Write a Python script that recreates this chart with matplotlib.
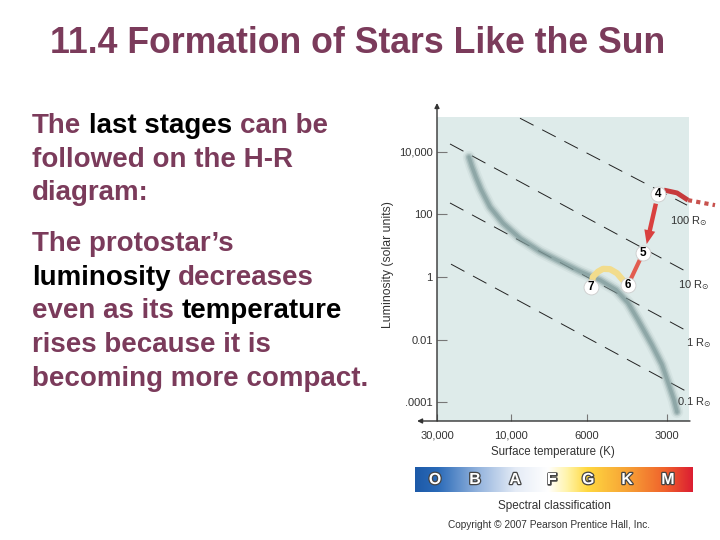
import numpy as np
import matplotlib.pyplot as plt
import matplotlib.patheffects as pe
from matplotlib.colors import LinearSegmentedColormap

plt.rcParams['font.family'] = ['Liberation Sans', 'DejaVu Sans']
plt.rcParams['lines.scale_dashes'] = False

W, H = 720, 540
MAROON = '#7b3b5b'
GREY = '#333333'

# ---------------- data ----------------
title = "11.4 Formation of Stars Like the Sun"

lum_ticks = [1e4, 1e2, 1, 1e-2, 1e-4]
lum_labels = ["10,000", "100", "1", "0.01", ".0001"]
temp_labels = ["30,000", "10,000", "6000", "3000"]
temp_pos = [0, 74, 150, 230]          # the temperature axis is not evenly logarithmic

# main sequence band (axis position, luminosity)
ms_x = [32, 35, 39, 44, 53, 66, 83, 103, 123, 143, 163, 179, 191, 201, 215, 225, 232, 237, 240]
ms_lum = [6600, 3300, 1500, 620, 170, 52, 17, 6.5, 3.1, 1.5, 0.8, 0.39, 0.15, 0.043,
          0.0068, 0.0016, 0.00036, 0.00012, 0.00005]

# lines of constant radius
radius_labels = ["100 R$_{\\odot}$", "10 R$_{\\odot}$", "1 R$_{\\odot}$", "0.1 R$_{\\odot}$"]
radius_x0 = [83, 13, 13, 14]
radius_l0 = [1.15e5, 1.74e4, 229, 2.57]
radius_x1 = [250, 250, 250, 249]
radius_l1 = [195, 1.45, 0.019, 0.00023]

# evolutionary stages of the protostar
stage_names = ["4", "5", "6", "7"]
stage_x = [221, 206, 191, 154]
stage_lum = [437, 5.75, 0.56, 0.49]

exit_x = [227, 240, 251]              # track leaving stage 4 to the right
exit_lum = [589, 479, 282]
dot_x = [251, 278]
dot_lum = [282, 195]
arrow_tip = (209.7, 11.2)

yel_x = [191, 186, 180, 173, 166, 161, 156, 154]
yel_lum = [0.56, 0.79, 1.32, 1.78, 1.82, 1.48, 1.02, 0.49]

spec_classes = ["O", "B", "A", "F", "G", "K", "M"]

body_lines = [
    [("The", MAROON), ("last stages", "black"), ("can be", MAROON)],
    [("followed on the H-R", MAROON)],
    [("diagram:", MAROON)],
    [("The protostar\u2019s", MAROON)],
    [("luminosity", "black"), ("decreases", MAROON)],
    [("even as its", MAROON), ("temperature", "black")],
    [("rises because it is", MAROON)],
    [("becoming more compact.", MAROON)],
]
body_base = [133, 167, 200, 251, 285, 318, 352, 386]

# ---------------- figure ----------------
fig = plt.figure(figsize=(W / 100, H / 100), dpi=100)
fig.patch.set_facecolor('white')

fig.text(357.5 / W, 1 - 53 / H, title, ha='center', va='baseline',
         fontsize=25.7, fontweight='bold', color=MAROON)

renderer = fig.canvas.get_renderer()
for pieces, yb in zip(body_lines, body_base):
    x = 32
    for txt, col in pieces:
        t = fig.text(x / W, 1 - yb / H, txt, ha='left', va='baseline',
                     fontsize=20, fontweight='bold', color=col)
        x = t.get_window_extent(renderer).x1 + 7.7

# ---------------- H-R diagram ----------------
ax = fig.add_axes([437 / W, 1 - 421 / H, 252 / W, 304 / H])
ax.set_facecolor('#deebea')
ax.set_yscale('log')
ax.set_xlim(0, 252)
ax.set_ylim(10 ** -4.59, 10 ** 5.10)
for s in ax.spines.values():
    s.set_visible(False)

ax.set_yticks(lum_ticks)
ax.set_yticklabels(lum_labels)
ax.yaxis.set_minor_locator(plt.NullLocator())
ax.set_xticks(temp_pos)
ax.set_xticklabels(temp_labels)
ax.tick_params(axis='y', direction='in', length=7, width=0.8, color='#777777',
               labelsize=8, labelcolor=GREY, pad=3)
ax.tick_params(axis='x', direction='in', length=5, width=0.8, color='#777777',
               labelsize=8, labelcolor=GREY, pad=7)

# axis arrows
ax.annotate('', xy=(0, 1.046), xytext=(0, 0), xycoords='axes fraction',
            arrowprops=dict(arrowstyle='-|>', color=GREY, lw=1, mutation_scale=7,
                            shrinkA=0, shrinkB=0), annotation_clip=False)
ax.annotate('', xy=(-0.079, 0), xytext=(1.004, 0), xycoords='axes fraction',
            arrowprops=dict(arrowstyle='-|>', color=GREY, lw=1, mutation_scale=7,
                            shrinkA=0, shrinkB=0), annotation_clip=False)

# constant-radius lines
for x0, l0, x1, l1 in zip(radius_x0, radius_l0, radius_x1, radius_l1):
    ax.plot([x0, x1], [l0, l1], color='#222222', lw=0.7, dashes=(11, 7),
            solid_capstyle='butt', zorder=2)
lab_px = [(670, 221), (678, 285), (686, 343), (677, 402)]
for lab, (px, py) in zip(radius_labels, lab_px):
    fig.text(px / W, 1 - py / H, lab, ha='left', va='center', fontsize=8, color=GREY)

# main sequence (soft band)
for lw, a in [(9, 0.10), (6.5, 0.22), (4.5, 0.4), (2.5, 0.6)]:
    ax.plot(ms_x, ms_lum, color='#7f9a9a', lw=lw, alpha=a,
            solid_capstyle='round', solid_joinstyle='round', zorder=3)

# protostar track
ax.plot(exit_x, exit_lum, color='#c63a3c', lw=3.5, solid_capstyle='butt',
        zorder=4, clip_on=False)
ax.plot(dot_x, dot_lum, color='#c8524e', lw=3, dashes=(3, 3), zorder=4, clip_on=False)
ax.annotate('', xy=arrow_tip, xytext=(stage_x[0], stage_lum[0]),
            arrowprops=dict(arrowstyle='simple,head_length=1.0,head_width=0.8,tail_width=0.32',
                            color='#d9403f', lw=0, shrinkA=7, shrinkB=0,
                            mutation_scale=10), zorder=4)
ax.plot(stage_x[1:3], stage_lum[1:3], color='#e25d50', lw=3, zorder=4)
ax.plot(yel_x, yel_lum, color='#f2dc8c', lw=4.5, solid_capstyle='round',
        solid_joinstyle='round', zorder=4)

ax.scatter(stage_x, stage_lum, s=115, color='white', edgecolor='#cccccc',
           linewidth=0.6, zorder=6)
for n, x, l in zip(stage_names, stage_x, stage_lum):
    ax.text(x, l, n, ha='center', va='center', fontsize=8.5, fontweight='bold',
            color='black', zorder=7)

fig.text(388 / W, 1 - 265 / H, "Luminosity (solar units)", rotation=90,
         ha='center', va='center', fontsize=8.8, color=GREY)
fig.text(553 / W, 1 - 452 / H, "Surface temperature (K)", ha='center', va='center',
         fontsize=8.3, color=GREY)

# ---------------- spectral bar ----------------
bar = fig.add_axes([415 / W, 1 - 492 / H, 278 / W, 25 / H])
cmap = LinearSegmentedColormap.from_list('spec', [
    (0.0, '#1d5aa8'), (0.08, '#2a6ab8'), (0.22, '#90b1dc'), (0.36, '#e4ebf6'),
    (0.48, '#ffffff'), (0.55, '#fff3a6'), (0.62, '#ffd840'), (0.76, '#f7a436'),
    (0.90, '#f0622c'), (1.0, '#dc1e32')])
bar.imshow(np.linspace(0, 1, 256)[None, :], aspect='auto', cmap=cmap,
           extent=(0, 1, 0, 1))
bar.set_xlim(0, 1)
bar.set_ylim(0, 1)
bar.axis('off')
spec_pos = [0.072, 0.216, 0.36, 0.492, 0.623, 0.763, 0.91]
for c, xp in zip(spec_classes, spec_pos):
    bar.text(xp, 0.5, c, ha='center', va='center', fontsize=11.5, fontweight='bold',
             color='white',
             path_effects=[pe.withStroke(linewidth=1.8, foreground='#444444')])

fig.text(554 / W, 1 - 506.5 / H, "Spectral classification", ha='center', va='center',
         fontsize=8.5, color=GREY)
fig.text(549 / W, 1 - 525 / H, "Copyright \u00a9 2007 Pearson Prentice Hall, Inc.",
         ha='center', va='center', fontsize=7.3, color=GREY)

fig.savefig('out.png', dpi=100)
